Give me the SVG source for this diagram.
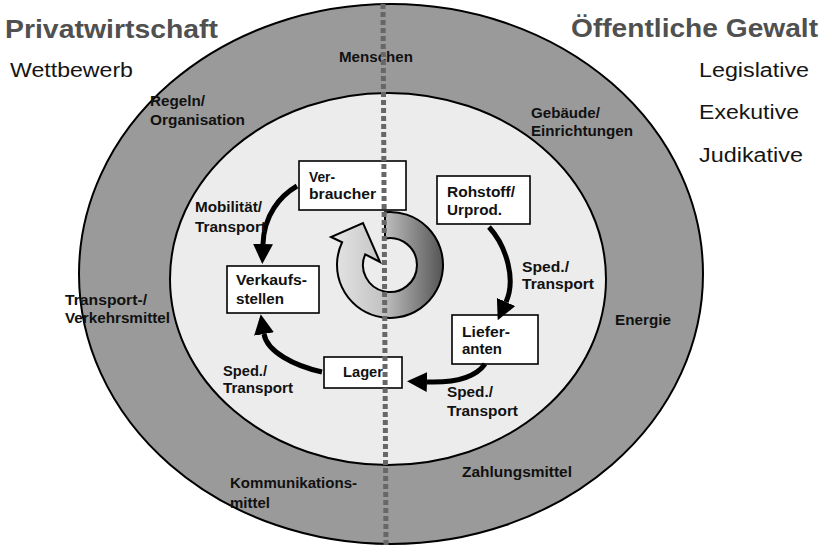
<svg xmlns="http://www.w3.org/2000/svg" width="829" height="546" viewBox="0 0 829 546">
<style>
.title{font-family:"Liberation Sans",Arial,sans-serif;font-weight:bold;font-size:25px;fill:#505050}
.side{font-family:"Liberation Sans",Arial,sans-serif;font-size:20px;fill:#151515}
.lbl{font-family:"Liberation Sans",Arial,sans-serif;font-weight:bold;font-size:14.5px;fill:#111}
.box rect{fill:#fff;stroke:#000;stroke-width:1.6}
.con path{fill:none;stroke:#000;stroke-width:5}
</style>
<defs>
<marker id="ah" viewBox="0 0 20 20" markerUnits="userSpaceOnUse" markerWidth="20" markerHeight="20" refX="0" refY="10" orient="auto">
<path d="M0,0 L20,10 L0,20 z" fill="#000"/>
</marker>
<linearGradient id="rg" x1="0" y1="0" x2="1" y2="0">
<stop offset="0" stop-color="#e6e6e6"/>
<stop offset="0.45" stop-color="#c4c4c4"/>
<stop offset="1" stop-color="#555"/>
</linearGradient>
</defs>
<rect width="829" height="546" fill="#fff"/>
<g id="outer-ring">
<ellipse cx="391" cy="274" rx="312" ry="270" fill="#9a9a9a" stroke="#000" stroke-width="2"/>
</g>
<g id="inner-area">
<ellipse cx="388" cy="279" rx="218" ry="186" fill="#ececec" stroke="#000" stroke-width="2"/>
</g>
<g id="titles">
<text class="title" x="5" y="38" textLength="213" lengthAdjust="spacingAndGlyphs">Privatwirtschaft</text>
<text class="title" x="571" y="37" textLength="247" lengthAdjust="spacingAndGlyphs">Öffentliche Gewalt</text>
<text class="side" x="10" y="77" textLength="123" lengthAdjust="spacingAndGlyphs">Wettbewerb</text>
<text class="side" x="699" y="77" textLength="110" lengthAdjust="spacingAndGlyphs">Legislative</text>
<text class="side" x="699" y="119" textLength="100" lengthAdjust="spacingAndGlyphs">Exekutive</text>
<text class="side" x="699" y="162" textLength="104" lengthAdjust="spacingAndGlyphs">Judikative</text>
</g>
<g id="ring-labels">
<text class="lbl" x="339" y="62" textLength="74" lengthAdjust="spacingAndGlyphs">Menschen</text>
<text class="lbl" x="150" y="106" textLength="55" lengthAdjust="spacingAndGlyphs">Regeln/</text>
<text class="lbl" x="150" y="125" textLength="95" lengthAdjust="spacingAndGlyphs">Organisation</text>
<text class="lbl" x="531" y="118" textLength="69" lengthAdjust="spacingAndGlyphs">Gebäude/</text>
<text class="lbl" x="531" y="136" textLength="102" lengthAdjust="spacingAndGlyphs">Einrichtungen</text>
<text class="lbl" x="65" y="305" textLength="82" lengthAdjust="spacingAndGlyphs">Transport-/</text>
<text class="lbl" x="65" y="323" textLength="105" lengthAdjust="spacingAndGlyphs">Verkehrsmittel</text>
<text class="lbl" x="615" y="325" textLength="56" lengthAdjust="spacingAndGlyphs">Energie</text>
<text class="lbl" x="230" y="488" textLength="127" lengthAdjust="spacingAndGlyphs">Kommunikations-</text>
<text class="lbl" x="230" y="508" textLength="40" lengthAdjust="spacingAndGlyphs">mittel</text>
<text class="lbl" x="462" y="477" textLength="110" lengthAdjust="spacingAndGlyphs">Zahlungsmittel</text>
</g>
<g id="cycle-arrow">
<path d="M385,212.2 A53,53 0 1 1 342.1,242.3 L331,237 L363,223 L380,262 L365.2,254.3 A27,27 0 1 0 385,238.5 Z" fill="url(#rg)" stroke="#000" stroke-width="2" stroke-linejoin="miter"/>
</g>
<g id="node-verbraucher" class="box">
<rect x="299" y="161" width="107" height="49"/>
<text class="lbl" x="309" y="182" textLength="26" lengthAdjust="spacingAndGlyphs">Ver-</text>
<text class="lbl" x="309" y="199" textLength="67" lengthAdjust="spacingAndGlyphs">braucher</text>
</g>
<g id="node-rohstoff" class="box">
<rect x="437" y="176" width="93" height="48"/>
<text class="lbl" x="447" y="197" textLength="68" lengthAdjust="spacingAndGlyphs">Rohstoff/</text>
<text class="lbl" x="447" y="215" textLength="55" lengthAdjust="spacingAndGlyphs">Urprod.</text>
</g>
<g id="node-verkaufsstellen" class="box">
<rect x="227" y="266" width="92" height="47"/>
<text class="lbl" x="236" y="285" textLength="71" lengthAdjust="spacingAndGlyphs">Verkaufs-</text>
<text class="lbl" x="236" y="304" textLength="48" lengthAdjust="spacingAndGlyphs">stellen</text>
</g>
<g id="node-lieferanten" class="box">
<rect x="452" y="315" width="86" height="49"/>
<text class="lbl" x="462" y="337" textLength="48" lengthAdjust="spacingAndGlyphs">Liefer-</text>
<text class="lbl" x="462" y="354" textLength="40" lengthAdjust="spacingAndGlyphs">anten</text>
</g>
<g id="node-lager" class="box">
<rect x="324" y="357" width="78" height="31"/>
<text class="lbl" x="343" y="377" textLength="40" lengthAdjust="spacingAndGlyphs">Lager</text>
</g>
<g id="connectors" class="con">
<path d="M297,186 C280,196 264,215 263,244" marker-end="url(#ah)"/>
<path d="M322,372 C295,366 267,352 264,334" marker-end="url(#ah)"/>
<path d="M489,227 C507,247 516,280 506,302" marker-end="url(#ah)"/>
<path d="M485,364 C475,378 455,383 427,382" marker-end="url(#ah)"/>
</g>
<g id="connector-labels">
<text class="lbl" x="195" y="212" textLength="67" lengthAdjust="spacingAndGlyphs">Mobilität/</text>
<text class="lbl" x="195" y="232" textLength="71" lengthAdjust="spacingAndGlyphs">Transport</text>
<text class="lbl" x="522" y="272" textLength="47" lengthAdjust="spacingAndGlyphs">Sped./</text>
<text class="lbl" x="522" y="289" textLength="72" lengthAdjust="spacingAndGlyphs">Transport</text>
<text class="lbl" x="223" y="376" textLength="44" lengthAdjust="spacingAndGlyphs">Sped./</text>
<text class="lbl" x="223" y="393" textLength="70" lengthAdjust="spacingAndGlyphs">Transport</text>
<text class="lbl" x="447" y="397" textLength="46" lengthAdjust="spacingAndGlyphs">Sped./</text>
<text class="lbl" x="447" y="416" textLength="71" lengthAdjust="spacingAndGlyphs">Transport</text>
</g>
<g id="divider">
<line x1="383" y1="4" x2="386" y2="545" stroke="#676767" stroke-width="5" stroke-dasharray="5 3"/>
</g>
</svg>
